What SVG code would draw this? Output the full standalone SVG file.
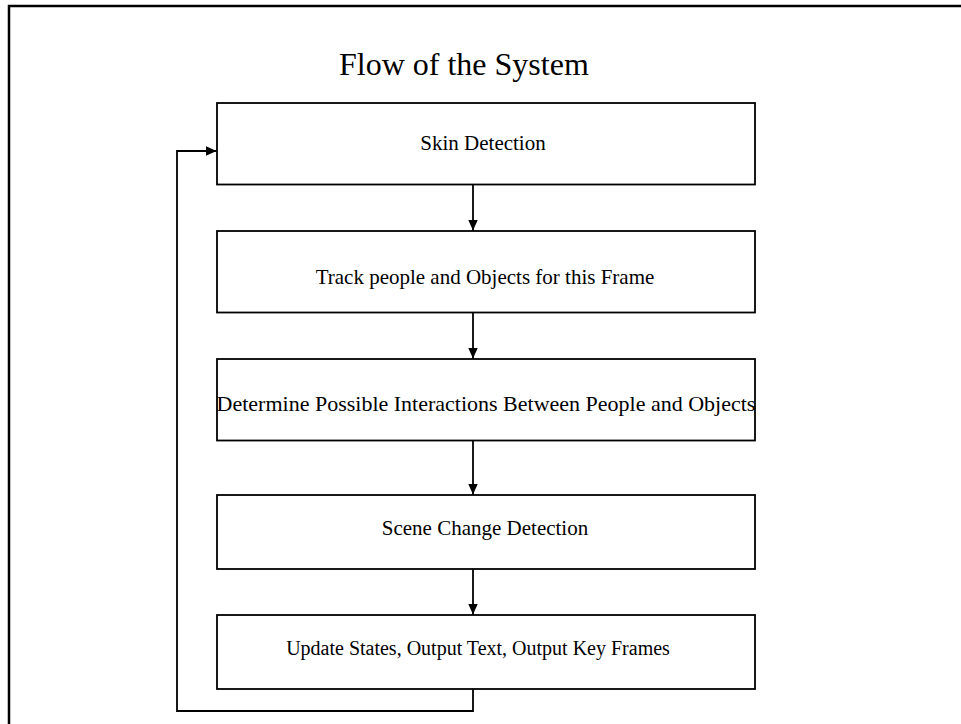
<svg xmlns="http://www.w3.org/2000/svg" width="961" height="724" viewBox="0 0 961 724">
<style>
.box{fill:#fff;stroke:#000;stroke-width:1.8}
.lbl{font-family:"Liberation Serif","Times New Roman",serif;font-size:21px;fill:#000;text-anchor:middle}
.ttl{font-family:"Liberation Serif","Times New Roman",serif;font-size:32px;fill:#000}
.con{fill:none;stroke:#000;stroke-width:1.8}
</style>
<defs>
<marker id="ah" viewBox="0 0 10 10" refX="10" refY="5" markerWidth="11" markerHeight="11" markerUnits="userSpaceOnUse" orient="auto">
<path d="M0,0.5 L10,5 L0,9.5 Z" fill="#000"/>
</marker>
</defs>
<rect width="961" height="724" fill="#fff"/>
<rect id="frame" x="9" y="6" width="980" height="740" fill="none" stroke="#000" stroke-width="2.5"/>
<text id="title" class="ttl" x="339" y="75">Flow of the System</text>
<g id="connectors">
<line class="con" x1="473" y1="184.5" x2="473" y2="230.5" marker-end="url(#ah)"/>
<line class="con" x1="473" y1="312.5" x2="473" y2="358.5" marker-end="url(#ah)"/>
<line class="con" x1="473" y1="440.5" x2="473" y2="494.5" marker-end="url(#ah)"/>
<line class="con" x1="473" y1="569" x2="473" y2="614.5" marker-end="url(#ah)"/>
<polyline class="con" points="473,689 473,711 177,711 177,151 216.5,151" marker-end="url(#ah)"/>
</g>
<g id="skin">
<rect class="box" x="217" y="103" width="538" height="81.5"/>
<text class="lbl" x="483" y="150">Skin Detection</text>
</g>
<g id="track">
<rect class="box" x="217" y="231" width="538" height="81.5"/>
<text class="lbl" x="485" y="284">Track people and Objects for this Frame</text>
</g>
<g id="determine">
<rect class="box" x="217" y="359" width="538" height="81.5"/>
<text class="lbl" x="486" y="411" style="font-size:22px">Determine Possible Interactions Between People and Objects</text>
</g>
<g id="scene">
<rect class="box" x="217" y="495" width="538" height="74"/>
<text class="lbl" x="485" y="535">Scene Change Detection</text>
</g>
<g id="update">
<rect class="box" x="217" y="615" width="538" height="74"/>
<text class="lbl" x="478" y="655" style="font-size:20px">Update States, Output Text, Output Key Frames</text>
</g>
</svg>
